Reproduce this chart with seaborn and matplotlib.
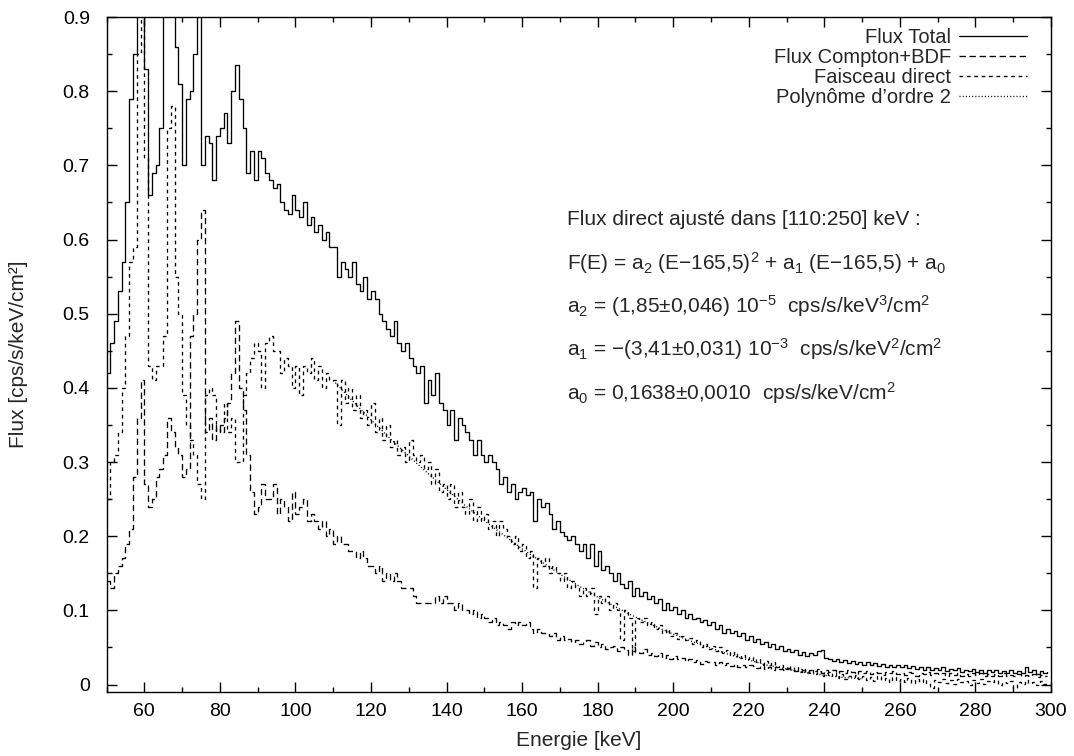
import numpy as np
import pandas as pd
import matplotlib
matplotlib.use("Agg")
import matplotlib.pyplot as plt
import seaborn as sns
from matplotlib.ticker import MultipleLocator, FormatStrFormatter

# bins de 1 keV (bord gauche), de 50 a 299 keV
energie = list(range(50, 300))

flux_total = [
    0.42, 0.46, 0.49, 0.53, 0.57, 0.65, 0.79, 0.85, 1.20, 1.30,
    0.83, 0.66, 0.69, 0.70, 0.75, 0.95, 1.15, 1.10, 0.86, 0.81,
    0.70, 0.79, 0.80, 0.85, 1.05, 0.70, 0.74, 0.73, 0.68, 0.74,
    0.75, 0.77, 0.73, 0.80, 0.835, 0.79, 0.75, 0.69, 0.72, 0.68,
    0.72, 0.71, 0.69, 0.68, 0.67, 0.675, 0.65, 0.64, 0.635, 0.66,
    0.64, 0.63, 0.65, 0.62, 0.63, 0.61, 0.62, 0.60, 0.61, 0.59,
    0.59, 0.55, 0.57, 0.56, 0.55, 0.57, 0.54, 0.53, 0.55, 0.52,
    0.53, 0.52, 0.50, 0.49, 0.48, 0.47, 0.49, 0.46, 0.45, 0.46,
    0.44, 0.43, 0.42, 0.43, 0.38, 0.41, 0.39, 0.42, 0.38, 0.37,
    0.35, 0.37, 0.33, 0.36, 0.35, 0.34, 0.33, 0.31, 0.33, 0.31,
    0.30, 0.31, 0.30, 0.29, 0.27, 0.28, 0.26, 0.27, 0.25, 0.26,
    0.265, 0.255, 0.26, 0.22, 0.25, 0.24, 0.245, 0.23, 0.21, 0.22,
    0.205, 0.20, 0.195, 0.20, 0.19, 0.18, 0.19, 0.17, 0.19, 0.16,
    0.18, 0.155, 0.16, 0.15, 0.14, 0.15, 0.135, 0.13, 0.14, 0.12,
    0.13, 0.12, 0.125, 0.115, 0.12, 0.11, 0.115, 0.10, 0.11, 0.10,
    0.105, 0.095, 0.10, 0.09, 0.095, 0.088, 0.09, 0.085, 0.087, 0.08,
    0.085, 0.075, 0.08, 0.07, 0.075, 0.07, 0.072, 0.065, 0.07, 0.06,
    0.065, 0.058, 0.062, 0.055, 0.058, 0.05, 0.055, 0.048, 0.052, 0.045,
    0.048, 0.044, 0.046, 0.04, 0.044, 0.038, 0.042, 0.04, 0.045, 0.047,
    0.036, 0.034, 0.032, 0.035, 0.03, 0.033, 0.029, 0.032, 0.028, 0.031,
    0.027, 0.03, 0.026, 0.029, 0.025, 0.028, 0.024, 0.027, 0.023, 0.026,
    0.024, 0.027, 0.022, 0.025, 0.021, 0.024, 0.02, 0.023, 0.019, 0.022,
    0.02, 0.023, 0.018, 0.021, 0.019, 0.022, 0.017, 0.02, 0.018, 0.021,
    0.017, 0.02, 0.016, 0.019, 0.017, 0.02, 0.015, 0.018, 0.016, 0.019,
    0.016, 0.018, 0.015, 0.024, 0.017, 0.019, 0.014, 0.018, 0.015, 0.017,
]

flux_compton = [
    0.14, 0.13, 0.15, 0.16, 0.17, 0.19, 0.21, 0.28, 0.36, 0.41,
    0.27, 0.24, 0.25, 0.28, 0.29, 0.31, 0.36, 0.34, 0.32, 0.31,
    0.28, 0.29, 0.47, 0.50, 0.60, 0.64, 0.34, 0.36, 0.33, 0.35,
    0.34, 0.36, 0.38, 0.42, 0.49, 0.40, 0.37, 0.31, 0.26, 0.23,
    0.24, 0.27, 0.25, 0.25, 0.27, 0.23, 0.25, 0.24, 0.22, 0.26,
    0.23, 0.24, 0.25, 0.22, 0.23, 0.22, 0.21, 0.22, 0.20, 0.21,
    0.19, 0.20, 0.19, 0.19, 0.18, 0.18, 0.17, 0.18, 0.17, 0.16,
    0.16, 0.15, 0.16, 0.14, 0.15, 0.14, 0.15, 0.14, 0.13, 0.13,
    0.13, 0.12, 0.11, 0.11, 0.11, 0.11, 0.11, 0.12, 0.11, 0.12,
    0.11, 0.11, 0.10, 0.11, 0.10, 0.10, 0.095, 0.10, 0.09, 0.095,
    0.09, 0.085, 0.09, 0.08, 0.085, 0.08, 0.075, 0.085, 0.08, 0.085,
    0.08, 0.085, 0.075, 0.07, 0.075, 0.07, 0.07, 0.065, 0.07, 0.06,
    0.065, 0.06, 0.062, 0.058, 0.06, 0.055, 0.058, 0.06, 0.052, 0.058,
    0.05, 0.055, 0.048, 0.05, 0.052, 0.045, 0.05, 0.046, 0.04, 0.05,
    0.044, 0.042, 0.048, 0.04, 0.043, 0.038, 0.042, 0.036, 0.04, 0.035,
    0.038, 0.034, 0.036, 0.032, 0.035, 0.03, 0.033, 0.028, 0.032, 0.03,
    0.031, 0.027, 0.03, 0.026, 0.029, 0.025, 0.028, 0.024, 0.027, 0.023,
    0.026, 0.025, 0.022, 0.026, 0.021, 0.024, 0.02, 0.023, 0.021, 0.019,
    0.022, 0.02, 0.018, 0.021, 0.019, 0.017, 0.02, 0.018, 0.021, 0.016,
    0.019, 0.017, 0.02, 0.016, 0.018, 0.015, 0.019, 0.017, 0.014, 0.018,
    0.016, 0.018, 0.014, 0.017, 0.015, 0.013, 0.017, 0.015, 0.018, 0.014,
    0.016, 0.013, 0.017, 0.015, 0.012, 0.016, 0.014, 0.017, 0.013, 0.015,
    0.014, 0.016, 0.012, 0.015, 0.013, 0.016, 0.012, 0.014, 0.011, 0.015,
    0.013, 0.015, 0.012, 0.014, 0.011, 0.014, 0.012, 0.015, 0.011, 0.013,
    0.012, 0.014, 0.011, 0.013, 0.012, 0.014, 0.01, 0.013, 0.011, 0.012,
]

faisceau_direct = [
    0.25, 0.30, 0.31, 0.34, 0.40, 0.47, 0.57, 0.59, 0.85, 1.05,
    0.71, 0.43, 0.41, 0.43, 0.43, 0.47, 0.75, 0.78, 0.55, 0.50,
    0.39, 0.35, 0.33, 0.31, 0.27, 0.25, 0.39, 0.40, 0.39, 0.34,
    0.35, 0.38, 0.34, 0.36, 0.30, 0.30, 0.39, 0.42, 0.44, 0.46,
    0.45, 0.40, 0.46, 0.47, 0.45, 0.45, 0.42, 0.44, 0.43, 0.40,
    0.43, 0.39, 0.43, 0.42, 0.44, 0.41, 0.43, 0.40, 0.42, 0.41,
    0.41, 0.35, 0.41, 0.38, 0.40, 0.37, 0.39, 0.36, 0.37, 0.35,
    0.38, 0.34, 0.36, 0.33, 0.35, 0.32, 0.33, 0.31, 0.32, 0.30,
    0.33, 0.31, 0.30, 0.31, 0.29, 0.30, 0.27, 0.29, 0.26, 0.27,
    0.25, 0.27, 0.24, 0.26, 0.24, 0.23, 0.25, 0.22, 0.24, 0.22,
    0.23, 0.21, 0.22, 0.20, 0.22, 0.21, 0.20, 0.19, 0.20, 0.18,
    0.19, 0.17, 0.18, 0.13, 0.17, 0.16, 0.17, 0.15, 0.16, 0.15,
    0.14, 0.15, 0.13, 0.14, 0.13, 0.12, 0.13, 0.12, 0.13, 0.095,
    0.12, 0.11, 0.12, 0.10, 0.11, 0.10, 0.06, 0.10, 0.09, 0.045,
    0.09, 0.085, 0.09, 0.08, 0.085, 0.075, 0.08, 0.07, 0.075, 0.065,
    0.07, 0.062, 0.066, 0.06, 0.063, 0.055, 0.06, 0.05, 0.055, 0.048,
    0.052, 0.045, 0.05, 0.043, 0.046, 0.04, 0.044, 0.036, 0.04, 0.034,
    0.037, 0.031, 0.035, 0.028, 0.032, 0.026, 0.03, 0.024, 0.027, 0.021,
    0.025, 0.019, 0.023, 0.017, 0.021, 0.015, 0.019, 0.014, 0.018, 0.012,
    0.016, 0.011, 0.015, 0.009, 0.014, 0.008, 0.012, 0.01, 0.013, 0.007,
    0.011, 0.006, 0.01, 0.005, 0.012, 0.006, 0.009, 0.004, 0.01, 0.005,
    0.008, 0.003, 0.009, 0.002, 0.007, 0.004, 0.008, 0.002, -0.004, 0.006,
    0.003, 0.008, 0.002, 0.006, 0.001, 0.007, 0.003, 0.005, 0.0, 0.006,
    0.002, 0.007, 0.001, 0.005, 0.003, 0.006, 0.0, 0.004, 0.002, 0.005,
    -0.004, 0.004, 0.001, 0.006, 0.002, 0.004, -0.001, 0.005, 0.001, 0.003,
]

poly_e = [110, 115, 120, 125, 130, 135, 140, 145, 150, 155, 160, 165, 170, 175, 180,
          185, 190, 195, 200, 205, 210, 215, 220, 225, 230, 235, 240, 245, 250]
poly_flux = [0.410, 0.383, 0.357, 0.332, 0.308, 0.285, 0.263, 0.241, 0.221, 0.202,
             0.183, 0.166, 0.149, 0.133, 0.118, 0.104, 0.091, 0.079, 0.068, 0.058,
             0.049, 0.040, 0.033, 0.026, 0.021, 0.016, 0.0125, 0.0096, 0.0078]

df = pd.DataFrame({"E": energie, "total": flux_total,
                   "compton": flux_compton, "direct": faisceau_direct})

sns.set_style("ticks")
plt.rcParams["font.family"] = ["Liberation Sans", "DejaVu Sans"]
plt.rcParams["mathtext.fontset"] = "custom"
plt.rcParams["mathtext.rm"] = "Liberation Sans"
plt.rcParams["mathtext.it"] = "Liberation Sans:italic"
plt.rcParams["mathtext.default"] = "regular"
plt.rcParams["axes.linewidth"] = 1.0

fig = plt.figure(figsize=(10.74, 7.56), dpi=100)
ax = fig.add_axes([0.0992, 0.0847, 0.8794, 0.8928])

lw = 0.95
sns.lineplot(data=df, x="E", y="total", ax=ax, color="black", lw=lw,
             drawstyle="steps-post", estimator=None, label="Flux Total")
sns.lineplot(data=df, x="E", y="compton", ax=ax, color="black", lw=lw,
             drawstyle="steps-post", estimator=None, ls=(0, (4.8, 2.8)),
             label="Flux Compton+BDF")
sns.lineplot(data=df, x="E", y="direct", ax=ax, color="black", lw=lw,
             drawstyle="steps-post", estimator=None, ls=(0, (2.8, 2.8)),
             label="Faisceau direct")
sns.lineplot(x=poly_e, y=poly_flux, ax=ax, color="black", lw=lw,
             estimator=None, ls=(0, (0.8, 1.6)), label="Polynôme d’ordre 2")

ax.set_xlim(50, 300)
ax.set_ylim(-0.01, 0.9)
ax.xaxis.set_major_locator(MultipleLocator(20))
ax.xaxis.set_minor_locator(MultipleLocator(10))
ax.yaxis.set_major_locator(MultipleLocator(0.1))
ax.yaxis.set_minor_locator(MultipleLocator(0.05))
ax.yaxis.set_major_formatter(FormatStrFormatter("%g"))
ax.tick_params(which="both", direction="in", top=True, right=True, width=1, colors="black")
ax.tick_params(which="major", length=7, labelsize=14)
ax.tick_params(axis="x", which="major", pad=8)
ax.tick_params(axis="y", which="major", pad=12)
ax.tick_params(which="minor", length=3.5)
for s in ax.spines.values():
    s.set_visible(True)
    s.set_color("black")

ax.set_xlabel("Energie [keV]", fontsize=15, labelpad=8)
ax.set_ylabel("Flux [cps/s/keV/cm²]", fontsize=15, labelpad=25)

leg = ax.legend(loc="upper right", bbox_to_anchor=(0.975, 0.984), frameon=False,
                markerfirst=False, handlelength=3.4, handletextpad=0.4,
                labelspacing=0.05, borderaxespad=0, borderpad=0, fontsize=14.5)

lignes = [
    "Flux direct ajusté dans [110:250] keV :",
    "F(E) = a$_2$ (E−165,5)$^2$ + a$_1$ (E−165,5) + a$_0$",
    "a$_2$ = (1,85±0,046) 10$^{-5}$  cps/s/keV$^3$/cm$^2$",
    "a$_1$ = −(3,41±0,031) 10$^{-3}$  cps/s/keV$^2$/cm$^2$",
    "a$_0$ = 0,1638±0,0010  cps/s/keV/cm$^2$",
]
y0 = 0.70
for i, t in enumerate(lignes):
    ax.text(0.487, y0 - i * 0.0642, t, transform=ax.transAxes, fontsize=15,
            ha="left", va="center")

fig.savefig("out.png", dpi=100)
